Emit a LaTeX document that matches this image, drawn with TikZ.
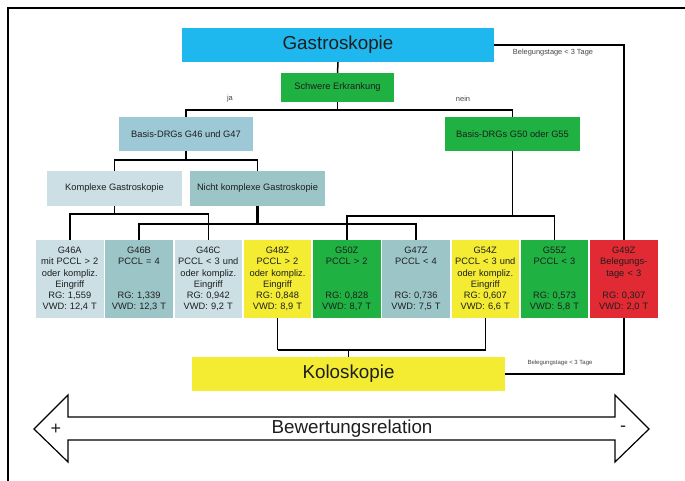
\documentclass[tikz,border=0pt]{standalone}
\usepackage{fontspec}
\setmainfont{Liberation Sans}
\definecolor{ink}{HTML}{1E1E1E}
\definecolor{cyanbox}{HTML}{1EB8EE}
\definecolor{greenbox}{HTML}{1FB142}
\definecolor{bluebox}{HTML}{9DC8D6}
\definecolor{palebox}{HTML}{CBDFE5}
\definecolor{tealbox}{HTML}{9CC5C8}
\definecolor{yellowbox}{HTML}{F4EC33}
\definecolor{redbox}{HTML}{E12A34}
\definecolor{labelgray}{HTML}{444444}
\begin{document}
\begin{tikzpicture}[x=1pt,y=-1pt,
  box/.style={draw=none,inner sep=0pt,text=ink,align=center},
  bigbox/.style={box,font=\fontsize{18.8}{22}\selectfont},
  midbox/.style={box,font=\fontsize{9.3}{11.3}\selectfont},
  drg/.style={box,minimum width=67.5pt,minimum height=78pt,text width=67.5pt,
    font=\fontsize{9.3}{11.3}\selectfont},
  tinylabel/.style={inner sep=0pt,text=labelgray},
  link/.style={draw=black,line width=1.5pt},
  thicklink/.style={draw=black,line width=2.3pt},
]
\useasboundingbox (0,0) rectangle (685,481);

% frame
\draw[line width=1.5pt] (8,481) -- (8,8) -- (685,8);

% upper tree
\node[bigbox,fill=cyanbox,minimum width=312pt,minimum height=34pt] (gastro) at (338,45) {Gastroskopie};
\node[midbox,fill=greenbox,minimum width=113pt,minimum height=29pt] (schwer) at (337.5,87.5) {Schwere Erkrankung};
\node[midbox,fill=bluebox,minimum width=134pt,minimum height=34pt] (basisA) at (186,134) {Basis-DRGs G46 und G47};
\node[midbox,fill=greenbox,minimum width=135pt,minimum height=34pt] (basisB) at (512.5,134) {Basis-DRGs G50 oder G55};
\node[midbox,fill=palebox,minimum width=135pt,minimum height=35pt] (komplex) at (114.5,188.5) {Komplexe Gastroskopie};
\node[midbox,fill=tealbox,minimum width=135pt,minimum height=35pt] (nichtkomplex) at (257.5,188.5) {Nicht komplexe Gastroskopie};

% DRG row
\node[drg,fill=palebox] (g46a) at (69.75,279) {G46A\\mit PCCL > 2\\oder kompliz.\\Eingriff\\RG: 1,559\\VWD: 12,4 T};
\node[drg,fill=tealbox] (g46b) at (139,279) {G46B\\PCCL = 4\\\mbox{}\\\mbox{}\\RG: 1,339\\VWD: 12,3 T};
\node[drg,fill=palebox] (g46c) at (208.25,279) {G46C\\PCCL < 3 und\\oder kompliz.\\Eingriff\\RG: 0,942\\VWD: 9,2 T};
\node[drg,fill=yellowbox] (g48z) at (277.5,279) {G48Z\\PCCL > 2\\oder kompliz.\\Eingriff\\RG: 0,848\\VWD: 8,9 T};
\node[drg,fill=greenbox] (g50z) at (346.75,279) {G50Z\\PCCL > 2\\\mbox{}\\\mbox{}\\RG: 0,828\\VWD: 8,7 T};
\node[drg,fill=tealbox] (g47z) at (416,279) {G47Z\\PCCL < 4\\\mbox{}\\\mbox{}\\RG: 0,736\\VWD: 7,5 T};
\node[drg,fill=yellowbox] (g54z) at (485.25,279) {G54Z\\PCCL < 3 und\\oder kompliz.\\Eingriff\\RG: 0,607\\VWD: 6,6 T};
\node[drg,fill=greenbox] (g55z) at (554.5,279) {G55Z\\PCCL < 3\\\mbox{}\\\mbox{}\\RG: 0,573\\VWD: 5,8 T};
\node[drg,fill=redbox] (g49z) at (623.75,279) {G49Z\\Belegungs-\\tage < 3\\\mbox{}\\RG: 0,307\\VWD: 2,0 T};

\node[bigbox,fill=yellowbox,minimum width=313pt,minimum height=34pt] (kolo) at (348.5,374) {Koloskopie};

% connectors
\draw[link] (gastro.south) -- (schwer.north);
\draw[link] (schwer.south) -- ++(0,8) coordinate (busja);
\draw[link] (basisA.north) |- (busja) -| (basisB.north);
\draw[thicklink] (basisA.south) -- ++(0,9) coordinate (busA);
\draw[link] (komplex.north) |- (busA) -| (nichtkomplex.north);
\draw[link] (komplex.south) -- ++(0,8) coordinate (busK);
\draw[link] (g46a.north) |- (busK) -| (g46c.north);
\draw[link] (basisB.south) -- ++(0,65) coordinate (busB);
\draw[link] (g50z.north) |- (busB) -| (g55z.north);
\draw[thicklink] (nichtkomplex.south) -- ++(0,18) coordinate (busN);
\draw[thicklink] (g46b.north) |- (busN) -| (g47z.north);
\draw[link] (gastro.east) -| (g49z.north);
\draw[link] (g48z.south) -- ++(0,32) coordinate (busKolo);
\draw[link] (busKolo) -| (g54z.south);
\draw[line width=1pt] (kolo.north) -- (kolo.north |- busKolo);
\draw[link] (g49z.south) |- (kolo.east);

% labels on connectors
\node[tinylabel,font=\fontsize{7.5}{9}\selectfont] (ja) at (230,99) {ja};
\node[tinylabel,font=\fontsize{7.5}{9}\selectfont] (nein) at (463,99) {nein};
\node[tinylabel,font=\fontsize{7.4}{9}\selectfont] (beleg1) at (553,53) {Belegungstage < 3 Tage};
\node[tinylabel,font=\fontsize{6}{7}\selectfont] (beleg2) at (560,363) {Belegungstage < 3 Tage};

% rating scale arrow
\draw[line width=1.2pt,fill=white,line join=miter]
  (34,429) -- (68,395) -- (68,417) -- (615,417) -- (615,395) -- (649,429)
  -- (615,462) -- (615,440) -- (68,440) -- (68,462) -- cycle;
\node[inner sep=0pt,text=ink,font=\fontsize{18.8}{22}\selectfont] (bew) at (352,429) {Bewertungsrelation};
\node[inner sep=0pt,text=ink,font=\fontsize{18}{22}\selectfont] (plus) at (56,429) {+};
\node[inner sep=0pt,text=ink,font=\fontsize{18}{22}\selectfont] (minus) at (623,429) {-};
\end{tikzpicture}
\end{document}
